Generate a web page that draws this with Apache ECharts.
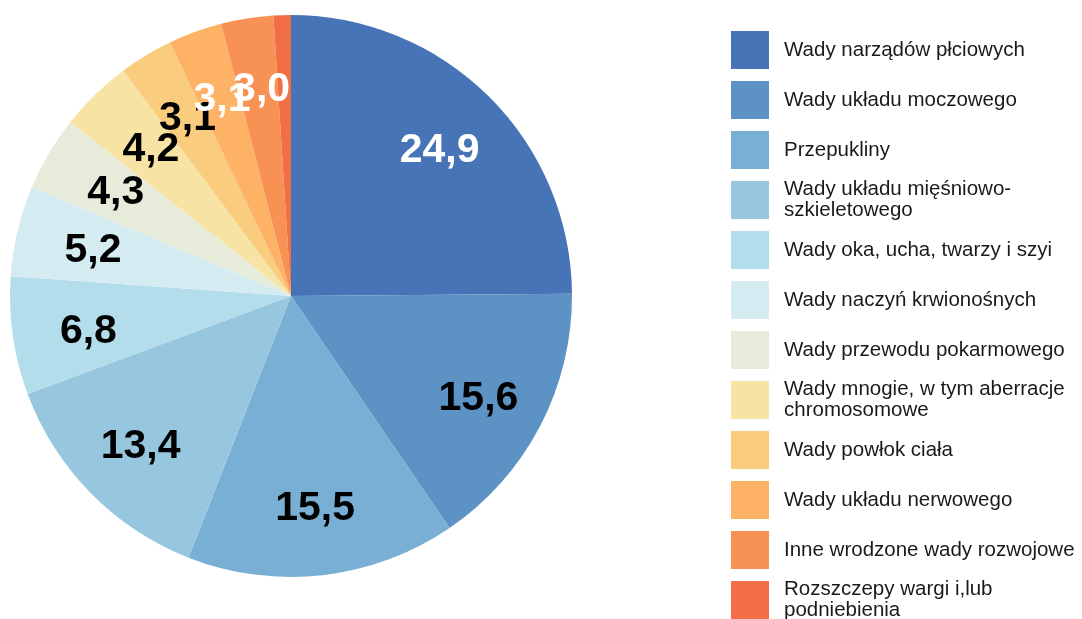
<!DOCTYPE html>
<html>
<head>
<meta charset="utf-8">
<script src="https://cdn.jsdelivr.net/npm/echarts@6/dist/echarts.min.js"></script>
<style>
    html, body { margin: 0; padding: 0; background: #fff; }
    #main { width: 1082px; height: 619px; }
</style>
</head>
<body>
<div id="main"></div>
<script>
    // dane
    var categories = [
        'Wady narządów płciowych',
        'Wady układu moczowego',
        'Przepukliny',
        'Wady układu mięśniowo-szkieletowego',
        'Wady oka, ucha, twarzy i szyi',
        'Wady naczyń krwionośnych',
        'Wady przewodu pokarmowego',
        'Wady mnogie, w tym aberracje chromosomowe',
        'Wady powłok ciała',
        'Wady układu nerwowego',
        'Inne wrodzone wady rozwojowe',
        'Rozszczepy wargi i,lub podniebienia'
    ];
    var values = [24.9, 15.6, 15.5, 13.4, 6.8, 5.2, 4.3, 4.2, 3.1, 3.1, 3.0, 1.0];

    // wygląd
    var colors = ['#4674B6', '#5D92C4', '#79AFD4', '#97C7DF', '#B3DDEB', '#D3EBF1',
                  '#E7EBDA', '#F7E3A3', '#FACC7E', '#FDB266', '#F79254', '#F26F45'];
    var labelColors = ['#fff', '#000', '#000', '#000', '#000', '#000',
                       '#000', '#000', '#000', '#fff', '#fff', null];
    var labelOffsets = [[-2, 6], [-2, 4], [0, 0], [2, 1], [9, 5], [10, 4],
                        [9, 5], [9, 7], [7, 6], [4, 5], [4, 5], [0, 0]];
    // zawijanie tekstu legendy
    var legendText = {
        'Wady układu mięśniowo-szkieletowego': 'Wady układu mięśniowo-\nszkieletowego',
        'Wady mnogie, w tym aberracje chromosomowe': 'Wady mnogie, w tym aberracje\nchromosomowe',
        'Rozszczepy wargi i,lub podniebienia': 'Rozszczepy wargi i,lub\npodniebienia'
    };

    var cx = 291, cy = 296, R = 281;

    var pieData = categories.map(function (name, i) {
        return { name: name, value: values[i], itemStyle: { color: colors[i] } };
    });
    // niewidoczna seria tylko dla etykiet (dalej od środka)
    var labelData = categories.map(function (name, i) {
        return {
            name: name,
            value: values[i],
            label: labelColors[i]
                ? { show: true, color: labelColors[i], offset: labelOffsets[i] }
                : { show: false }
        };
    });

    // osobna legenda dla każdej pozycji - stały odstęp 50px
    var legends = categories.map(function (name, i) {
        var wrapped = !!legendText[name];
        return {
            orient: 'vertical',
            left: 731,
            top: 31 + 50 * i - (wrapped ? 2 : 0),
            padding: 0,
            itemWidth: 38,
            itemHeight: 38,
            icon: 'rect',
            selectedMode: false,
            itemStyle: { borderWidth: 0 },
            data: [name],
            formatter: function (n) {
                return legendText[n] || n;
            },
            textStyle: {
                fontFamily: 'Liberation Sans, Arial, sans-serif',
                fontSize: 20.5,
                lineHeight: 21,
                color: '#1a1a1a',
                padding: [0, 0, 0, 10]
            }
        };
    });

    var myChart = echarts.init(document.getElementById('main'));
    var option = {
        animation: false,
        legend: legends,
        series: [
            {
                type: 'pie',
                center: [cx, cy],
                radius: [0, R],
                startAngle: 90,
                clockwise: true,
                silent: true,
                label: { show: false },
                labelLine: { show: false },
                itemStyle: { borderWidth: 0 },
                data: pieData
            },
            {
                type: 'pie',
                center: [cx, cy],
                radius: [0, R * 1.5],
                startAngle: 90,
                clockwise: true,
                silent: true,
                avoidLabelOverlap: false,
                labelLayout: { hideOverlap: false },
                itemStyle: { color: 'rgba(0,0,0,0)' },
                labelLine: { show: false },
                label: {
                    position: 'inside',
                    fontFamily: 'Liberation Sans, Arial, sans-serif',
                    fontWeight: 'bold',
                    fontSize: 41,
                    formatter: function (p) {
                        return p.value.toFixed(1).replace('.', ',');
                    }
                },
                data: labelData
            }
        ]
    };
    myChart.setOption(option);
</script>
</body>
</html>
